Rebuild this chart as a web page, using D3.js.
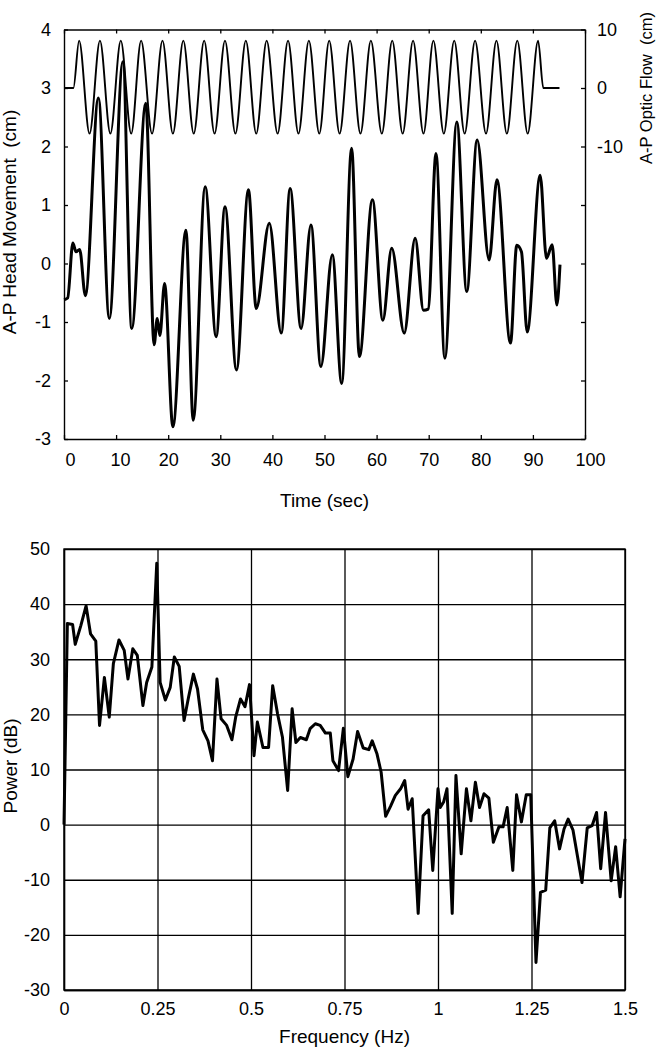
<!DOCTYPE html>
<html><head><meta charset="utf-8">
<script src="https://cdn.jsdelivr.net/npm/d3@7"></script>
<style>
body{margin:0;background:#fff}
svg text{font-family:"Liberation Sans",Arial,sans-serif;fill:#000}
</style>
</head><body><svg id="c" width="663" height="1050"></svg>
<script>
// ---------- data: top chart ----------
const timeTicks = [0,10,20,30,40,50,60,70,80,90,100];
const headTicks = [-3,-2,-1,0,1,2,3,4];
const flowTickValues = [10,0,-10,-20,-30,-40,-50,-60];
const flowTickLabels = [10,0,-10];

// A-P head movement (cm), time (s)
const headT = [0,0.7,1.7,2.3,3.0,4.1,6.6,8.7,11.3,13.0,15.7,17.3,17.9,18.4,19.3,20.9,23.4,24.8,27.1,29.2,30.9,33.1,35.4,36.9,39.4,41.7,43.4,45.5,47.4,49.3,51.5,53.3,55.2,56.7,59.2,61.2,62.9,65.3,67.4,69.0,69.9,71.4,73.1,75.4,77.3,79.3,81.6,83.1,85.7,86.9,87.8,88.9,91.4,92.6,93.7,94.6,95.2];
const headV = [-0.62,-0.59,0.35,0.2,0.24,-0.55,2.83,-0.94,3.45,-1.11,2.74,-1.39,-0.94,-1.23,-0.34,-2.79,0.57,-2.68,1.31,-1.25,0.97,-1.82,1.26,-0.77,0.69,-1.19,1.28,-1.11,0.66,-1.76,0.15,-2.05,1.97,-1.59,1.09,-0.97,0.26,-1.19,0.43,-0.8,-0.78,1.88,-1.62,2.42,-0.48,2.11,0.06,1.43,-1.36,0.31,0.2,-1.17,1.51,0.09,0.32,-0.71,-0.02];

// A-P optic flow (cm): flat, then extrema, then flat
const flowT = [0,1.8,2.9,4.9,6.9,8.9,10.9,12.9,14.8,16.9,18.9,20.9,22.9,24.9,26.9,28.9,30.9,32.9,34.9,36.9,38.9,41.0,43.0,45.0,47.0,49.0,50.9,52.9,54.9,56.9,58.9,61.0,63.0,65.0,67.0,69.0,70.9,72.9,74.9,76.9,78.9,81.0,83.0,85.0,87.0,89.0,91.0,92.0,95.1];
const flowV = [0,0,8.1,-7.8,8.1,-7.8,8.1,-7.8,8.1,-7.8,8.1,-7.8,8.1,-7.8,8.1,-7.8,8.1,-7.8,8.1,-7.8,8.1,-7.8,8.1,-7.8,8.1,-7.8,8.1,-7.8,8.1,-7.8,8.1,-7.8,8.1,-7.8,8.1,-7.8,8.1,-7.8,8.1,-7.8,8.1,-7.8,8.1,-7.8,8.1,-7.8,8.1,0,0];

// ---------- data: bottom chart ----------
const freqTicks = [0,0.25,0.5,0.75,1,1.25,1.5];
const freqTickLabels = ["0","0.25","0.5","0.75","1","1.25","1.5"];
const powerTicks = [-30,-20,-10,0,10,20,30,40,50];

const freq = [0,0.009,0.023,0.030,0.045,0.059,0.071,0.085,0.095,0.108,
0.121,0.132,0.147,0.161,0.171,0.184,0.196,0.211,0.221,0.235,
0.248,0.257,0.271,0.284,0.295,0.308,0.321,0.333,0.346,0.357,
0.371,0.385,0.397,0.409,0.420,0.435,0.449,0.459,0.472,0.484,
0.496,0.508,0.517,0.532,0.547,0.558,0.571,0.584,0.598,0.610,
0.620,0.632,0.648,0.658,0.672,0.685,0.699,0.712,0.719,0.734,
0.747,0.759,0.773,0.785,0.800,0.815,0.824,0.837,0.848,0.860,
0.873,0.886,0.900,0.911,0.920,0.931,0.947,0.960,0.975,0.986,
1.000,1.006,1.015,1.024,1.038,1.048,1.062,1.076,1.088,1.100,
1.111,1.123,1.136,1.148,1.163,1.174,1.185,1.200,1.210,1.223,
1.236,1.248,1.262,1.274,1.288,1.299,1.312,1.325,1.337,1.348,
1.361,1.385,1.399,1.412,1.424,1.435,1.448,1.463,1.475,1.487,1.500];
const power = [0,36.5,36.3,32.7,36.1,39.7,34.6,33.3,18.0,26.7,
19.5,29.2,33.5,31.6,26.4,31.9,30.7,21.6,25.8,28.6,
47.4,25.8,22.6,24.9,30.4,28.7,18.9,23.1,27.3,24.6,
17.2,15.2,11.6,26.4,19.2,18.0,15.4,19.5,22.8,21.4,
25.4,12.5,18.6,14.0,14.0,25.2,20.1,15.9,6.2,21.0,
14.9,15.8,15.4,17.4,18.3,18.0,16.6,16.6,11.6,9.8,
17.5,8.7,11.9,16.9,13.9,13.6,15.2,12.8,9.5,1.5,
3.3,5.3,6.5,8.0,2.8,4.7,-16.1,1.6,2.7,-8.3,
6.5,3.1,4.1,6.5,-16.1,8.9,-5.3,6.5,0.7,7.7,
3.1,5.6,4.8,-3.2,-0.4,-0.4,3.1,-8.3,5.4,0.5,
5.4,5.4,-25.0,-12.3,-11.9,-0.6,0.7,-4.4,-0.8,1.0,
-1.0,-10.5,-0.6,-0.2,2.2,-8.0,2.2,-10.2,-4.0,-13.1,-2.6];

// ---------- drawing ----------
const svg = d3.select("#c");
const FS = "18px";
const plain = d => String(d); // hyphen-minus like the reference

function styleAxis(g){
  g.selectAll("path.domain").attr("stroke","#000").attr("stroke-width",1.4);
  g.selectAll(".tick line").attr("stroke","#000").attr("stroke-width",1.3);
  g.selectAll(".tick text").style("font-size",FS).attr("fill","#000");
}

// Top chart
const T = {l:64, r:585, t:29.5, b:439};
const x1 = d3.scaleLinear([0,100],[T.l,T.r]);
const yL = d3.scaleLinear([-3,4],[T.b,T.t]);
const yR = d3.scaleLinear([-60,10],[T.b,T.t]);

const gT = svg.append("g");
gT.append("g").attr("transform",`translate(0,${T.b})`)
  .call(d3.axisBottom(x1).tickValues(timeTicks).tickSize(-4).tickSizeOuter(0).tickPadding(14).tickFormat(plain))
  .call(styleAxis)
  .call(g=>g.selectAll(".tick text").attr("dx",d=>d===0?6:(d===100?5:(d===10?4:0))));
gT.append("g").attr("transform",`translate(0,${T.t})`)
  .call(d3.axisTop(x1).tickValues(timeTicks).tickSize(-4).tickSizeOuter(0).tickFormat(""))
  .call(styleAxis);
gT.append("g").attr("transform",`translate(${T.l},0)`)
  .call(d3.axisLeft(yL).tickValues(headTicks).tickSize(-4).tickSizeOuter(0).tickPadding(13).tickFormat(plain))
  .call(styleAxis);
gT.append("g").attr("transform",`translate(${T.r},0)`)
  .call(d3.axisRight(yR).tickValues(flowTickValues).tickSize(-4).tickSizeOuter(0).tickPadding(12)
    .tickFormat(d=>flowTickLabels.includes(d)?String(d):""))
  .call(styleAxis);

const flowLine = d3.line().x((d,i)=>x1(flowT[i])).y((d,i)=>yR(flowV[i])).curve(d3.curveMonotoneX);
gT.append("path").attr("d",flowLine(flowT)).attr("fill","none").attr("stroke","#000").attr("stroke-width",1.9);

const headLine = d3.line().x((d,i)=>x1(headT[i])).y((d,i)=>yL(headV[i])).curve(d3.curveMonotoneX);
gT.append("path").attr("d",headLine(headT)).attr("fill","none").attr("stroke","#000").attr("stroke-width",3).attr("stroke-linejoin","round");

gT.append("text").attr("x",(T.l+T.r)/2).attr("y",507).attr("text-anchor","middle").style("font-size","19px").text("Time (sec)");
gT.append("text").attr("transform","translate(16,222) rotate(-90)").attr("text-anchor","middle").style("font-size","19px").attr("xml:space","preserve").text("A-P Head Movement  (cm)");
gT.append("text").attr("transform","translate(652,88) rotate(-90)").attr("text-anchor","middle").style("font-size","16.5px").attr("xml:space","preserve").text("A-P Optic Flow  (cm)");

// Bottom chart
const B = {l:64, r:625, t:549, b:990};
const x2 = d3.scaleLinear([0,1.5],[B.l,B.r]);
const y2 = d3.scaleLinear([-30,50],[B.b,B.t]);
const gB = svg.append("g");
gB.append("g").attr("transform",`translate(0,${B.b})`)
  .call(d3.axisBottom(x2).tickValues(freqTicks).tickSize(-(B.b-B.t)).tickSizeOuter(0).tickPadding(12)
     .tickFormat((d,i)=>freqTickLabels[i]))
  .call(styleAxis);
gB.append("g").attr("transform",`translate(${B.l},0)`)
  .call(d3.axisLeft(y2).tickValues(powerTicks).tickSize(-(B.r-B.l)).tickSizeOuter(0).tickPadding(14).tickFormat(plain))
  .call(styleAxis);
gB.append("rect").attr("x",B.l).attr("y",B.t).attr("width",B.r-B.l).attr("height",B.b-B.t)
  .attr("fill","none").attr("stroke","#000").attr("stroke-width",1.4);

const pLine = d3.line().x((d,i)=>x2(freq[i])).y((d,i)=>y2(power[i]));
gB.append("path").attr("d",pLine(freq)).attr("fill","none").attr("stroke","#000").attr("stroke-width",3).attr("stroke-linejoin","round");

gB.append("text").attr("x",(B.l+B.r)/2).attr("y",1043).attr("text-anchor","middle").style("font-size","19px").text("Frequency (Hz)");
gB.append("text").attr("transform","translate(17,766) rotate(-90)").attr("text-anchor","middle").style("font-size","19px").text("Power (dB)");
</script>
</body></html>
